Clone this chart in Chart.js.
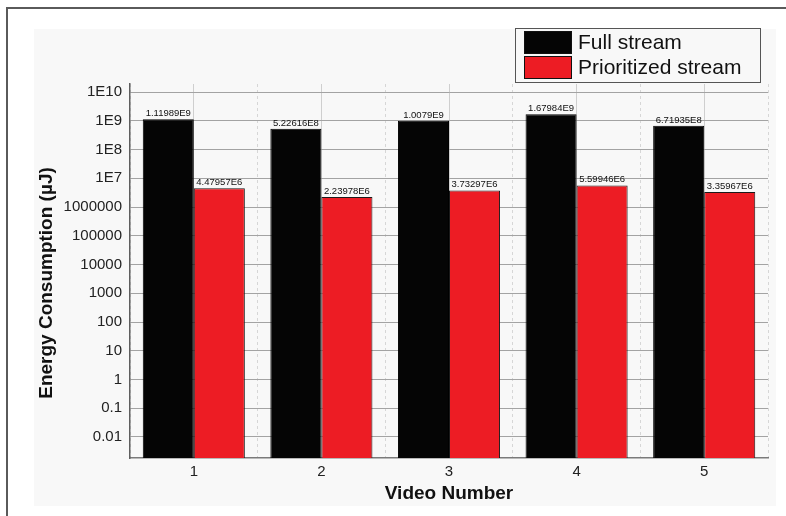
<!DOCTYPE html>
<html>
<head>
<meta charset="utf-8">
<script src="https://cdn.jsdelivr.net/npm/chart.js@4/dist/chart.umd.min.js"></script>
<style>
  body { margin: 0; background: #fff; }
  #wrap { position: relative; width: 786px; height: 516px; background: #fff; overflow: hidden; }
  #frame { position: absolute; left: 6px; top: 7px; right: -4px; bottom: -4px; border-top: 2px solid #5a5a5a; border-left: 2px solid #5a5a5a; }
  #paper { position: absolute; left: 34px; top: 29px; width: 742px; height: 477px; background: #f8f8f8; }
  canvas { position: absolute; left: 0; top: 0; }
</style>
</head>
<body>
<div id="wrap">
  <div id="frame"></div>
  <div id="paper"></div>
  <canvas id="chart" width="786" height="516"></canvas>
</div>
<script>
// chart data
const videos = ['1', '2', '3', '4', '5'];
const fullStream = [1.11989E9, 5.22616E8, 1.0079E9, 1.67984E9, 6.71935E8];
const prioritizedStream = [4.47957E6, 2.23978E6, 3.73297E6, 5.59946E6, 3.35967E6];
const yTickValues = [0.01, 0.1, 1, 10, 100, 1000, 10000, 100000, 1000000, 1E7, 1E8, 1E9, 1E10];
const yTickLabels = ['0.01', '0.1', '1', '10', '100', '1000', '10000', '100000', '1000000', '1E7', '1E8', '1E9', '1E10'];
const yTitle = 'Energy Consumption (µJ)';

const FONT = 'Arial, "Liberation Sans", sans-serif';

function formatValue(v) {
    // 1.11989e+9 -> 1.11989E9
    return v.toExponential().replace('e+', 'E').replace('e', 'E');
}

// value labels above each bar
const barLabels = {
    id: 'barLabels',
    afterDatasetsDraw(chart) {
        const ctx = chart.ctx;
        ctx.save();
        ctx.font = '9.5px ' + FONT;
        ctx.fillStyle = '#111';
        ctx.textAlign = 'center';
        ctx.textBaseline = 'bottom';
        chart.data.datasets.forEach((ds, di) => {
            chart.getDatasetMeta(di).data.forEach((bar, i) => {
                ctx.fillText(formatValue(ds.data[i]), bar.x, bar.y - 1);
            });
        });
        ctx.restore();
    }
};

// y axis title, sits a bit below the middle of the axis like the original
const yAxisTitle = {
    id: 'yAxisTitle',
    afterDraw(chart) {
        const ctx = chart.ctx;
        const area = chart.chartArea;
        ctx.save();
        ctx.translate(47, (area.top + area.bottom) / 2 + 12);
        ctx.rotate(-Math.PI / 2);
        ctx.font = 'bold 19px ' + FONT;
        ctx.fillStyle = '#111';
        ctx.textAlign = 'center';
        ctx.textBaseline = 'middle';
        ctx.fillText(yTitle, 0, 0);
        ctx.restore();
    }
};

// boxed legend in the top right corner
const boxLegend = {
    id: 'boxLegend',
    afterDraw(chart) {
        const ctx = chart.ctx;
        const left = 515, top = 28, w = 245, h = 54;
        ctx.save();
        ctx.strokeStyle = '#555';
        ctx.lineWidth = 1;
        ctx.strokeRect(left + 0.5, top + 0.5, w, h);
        ctx.font = '21px ' + FONT;
        ctx.textBaseline = 'middle';
        chart.data.datasets.forEach((ds, i) => {
            const y = top + 3 + i * 25;
            ctx.fillStyle = ds.backgroundColor;
            ctx.fillRect(left + 9, y, 48, 23);
            ctx.strokeStyle = '#111';
            ctx.strokeRect(left + 9.5, y + 0.5, 47, 22);
            ctx.fillStyle = '#111';
            ctx.fillText(ds.label, left + 63, y + 12);
        });
        ctx.restore();
    }
};

new Chart(document.getElementById('chart'), {
    type: 'bar',
    data: {
        labels: videos,
        datasets: [{
            label: 'Full stream',
            data: fullStream,
            backgroundColor: '#050505',
            borderColor: '#000',
            borderWidth: 1,
            xAxisID: 'x',
            yAxisID: 'y'
        }, {
            label: 'Prioritized stream',
            data: prioritizedStream,
            backgroundColor: '#ed1c24',
            borderColor: '#1a1a1a',
            borderWidth: 1,
            xAxisID: 'x',
            yAxisID: 'y'
        }]
    },
    options: {
        responsive: false,
        animation: false,
        devicePixelRatio: 1,
        layout: { padding: { top: 84, right: 18, left: 0, bottom: 0 } },
        categoryPercentage: 0.8,
        barPercentage: 1.0,
        plugins: {
            legend: { display: false },
            tooltip: { enabled: false }
        },
        scales: {
            x: {
                type: 'category',
                position: 'bottom',
                offset: true,
                grid: { offset: false, color: '#cfcfcf', lineWidth: 1, drawTicks: false },
                border: { color: '#7a7a7a', width: 1.5 },
                ticks: { color: '#222', font: { family: FONT, size: 15 }, padding: 5 },
                title: {
                    display: true,
                    text: 'Video Number',
                    color: '#111',
                    font: { family: FONT, size: 19, weight: 'bold' },
                    padding: { top: 0, bottom: 11 }
                },
                afterFit(scale) { scale.height = 58; }
            },
            x2: {
                type: 'category',
                position: 'bottom',
                offset: true,
                grid: { offset: true, color: '#d6d6d6', lineWidth: 1, drawTicks: false },
                border: { display: false, dash: [3, 3] },
                ticks: { display: false },
                afterFit(scale) { scale.height = 0; }
            },
            y: {
                type: 'logarithmic',
                min: 0.00186,
                max: 1.9E10,
                grid: { color: '#a3a3a3', lineWidth: 1, drawTicks: false },
                border: { color: '#5f5f5f', width: 1.5 },
                afterBuildTicks(scale) {
                    scale.ticks = yTickValues.map(v => ({ value: v }));
                },
                ticks: {
                    color: '#222',
                    font: { family: FONT, size: 15 },
                    padding: 8,
                    autoSkip: false,
                    callback: (value, index) => yTickLabels[index]
                },
                title: { display: false },
                afterFit(scale) { scale.width = 130; }
            }
        }
    },
    plugins: [barLabels, yAxisTitle, boxLegend]
});
</script>
</body>
</html>
